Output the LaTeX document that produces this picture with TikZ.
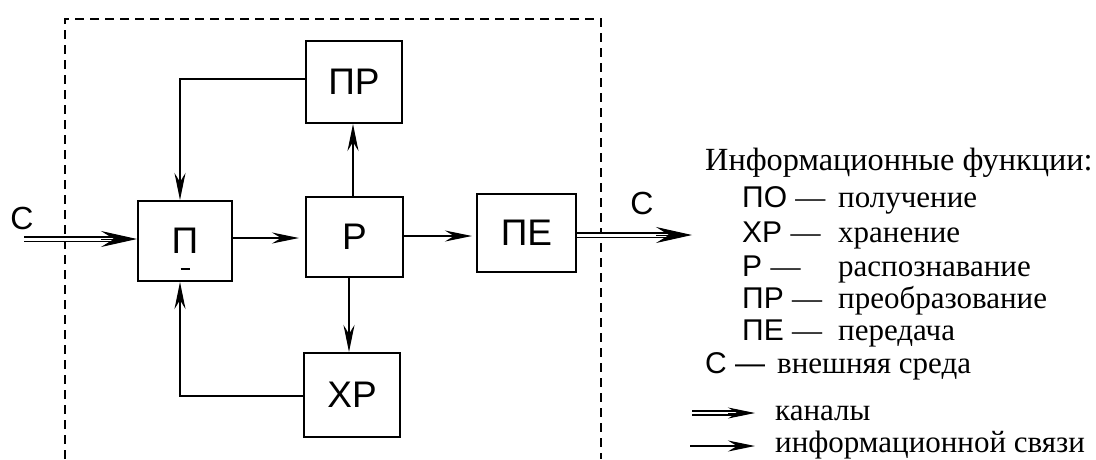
\documentclass[tikz,border=0pt]{standalone}
\usepackage{fontspec}
\setmainfont{Liberation Serif}
\setsansfont{Liberation Sans}
\usetikzlibrary{arrows.meta,calc}
\begin{document}
\begin{tikzpicture}[x=1pt,y=-1pt,
  blk/.style={draw,line width=2pt,inner sep=0pt,font=\sffamily\fontsize{37}{37}\selectfont},
  lnk/.style={line width=2pt,-{Stealth[length=27pt,width=11pt,inset=9pt]}},
  dblshaft/.style={line width=1.8pt,double distance=3pt},
  dbltip/.style={line width=1pt,-{Stealth[length=36pt,width=16pt,inset=13pt]}},
  sdbltip/.style={line width=1pt,-{Stealth[length=27pt,width=11pt,inset=9pt]}},
  border/.style={line width=1.5pt,dash pattern=on 9pt off 6pt},
  lab/.style={font=\sffamily\fontsize{32}{32}\selectfont,inner sep=0pt},
  ser/.style={font=\fontsize{31}{31}\selectfont,inner sep=0pt,anchor=base west},
  abbr/.style={font=\sffamily\fontsize{30}{30}\selectfont,inner sep=0pt,anchor=base west}
]
\useasboundingbox (0,0) rectangle (1096,459);
% dashed boundary
\draw[border] (65,459) -- (65,19) -- (601,19) -- (601,459);
% blocks
\node[blk,minimum width=94pt,minimum height=80pt] (P) at (185,241) {П};
\node[blk,minimum width=96pt,minimum height=82pt] (PR) at (354,82) {ПР};
\node[blk,minimum width=97pt,minimum height=80pt] (R) at (354.5,237) {Р};
\node[blk,minimum width=96pt,minimum height=84pt] (XR) at (352,395) {ХР};
\node[blk,minimum width=99pt,minimum height=78pt] (PE) at (526.5,233) {ПЕ};
\draw[line width=1.6pt] (180.5,269) -- (189.5,269);
% external C
\node[lab] (Cl) at (22,218) {С};
\node[lab] (Cr) at (642,203) {С};
\coordinate (Cin) at (24,239);
\coordinate (Cout) at (692,235);
% input double arrow
\draw[dblshaft] (Cin) -- ([xshift=-18pt]P.west|-Cin);
\draw[dbltip] ([xshift=-36pt]P.west|-Cin) -- (P.west|-Cin);
% output double arrow
\draw[dblshaft] (PE.east|-Cout) -- ([xshift=-18pt]Cout);
\draw[dbltip] ([xshift=-36pt]Cout) -- (Cout);
% links
\draw[lnk,shorten >=6pt] (P.east|-0,238) -- (R.west|-0,238);
\draw[lnk,shorten >=4pt] (R.east|-0,236) -- (PE.west|-0,236);
\draw[lnk] (R.north-|353,0) -- (PR.south-|353,0);
\draw[lnk] (R.south-|349,0) -- (XR.north-|349,0);
\draw[lnk] (PR.west|-0,79) -| (P.north-|180,0);
\draw[lnk] (XR.west|-0,396) -| (P.south-|180,0);
% legend
\node[ser,font=\fontsize{32.3}{32.3}\selectfont] (Lt) at (705,170) {Информационные функции:};
\node[abbr] (L1) at (742,207) {ПО \textrm{—}};
\node[ser] (L1t) at (838,207) {получение};
\node[abbr] (L2) at (742,242) {ХР \textrm{—}};
\node[ser] (L2t) at (838,242) {хранение};
\node[abbr] (L3) at (742,276) {Р \textrm{—}};
\node[ser] (L3t) at (838,276) {распознавание};
\node[abbr] (L4) at (742,308) {ПР \textrm{—}};
\node[ser] (L4t) at (838,308) {преобразование};
\node[abbr] (L5) at (742,340) {ПЕ \textrm{—}};
\node[ser] (L5t) at (838,340) {передача};
\node[abbr] (L6) at (705,373) {С —};
\node[ser] (L6t) at (777,373) {внешняя среда};
\node[ser] (L7t) at (775,420) {каналы};
\node[ser] (L8t) at (775,452) {информационной связи};
\coordinate (K1a) at (692,413);
\coordinate (K1b) at (755,413);
\coordinate (K2a) at (690,446);
\coordinate (K2b) at (755,446);
\draw[line width=1.6pt,double distance=2.6pt] (K1a) -- ([xshift=-14pt]K1b);
\draw[sdbltip] ([xshift=-27pt]K1b) -- (K1b);
\draw[lnk] (K2a) -- (K2b);
\end{tikzpicture}
\end{document}
